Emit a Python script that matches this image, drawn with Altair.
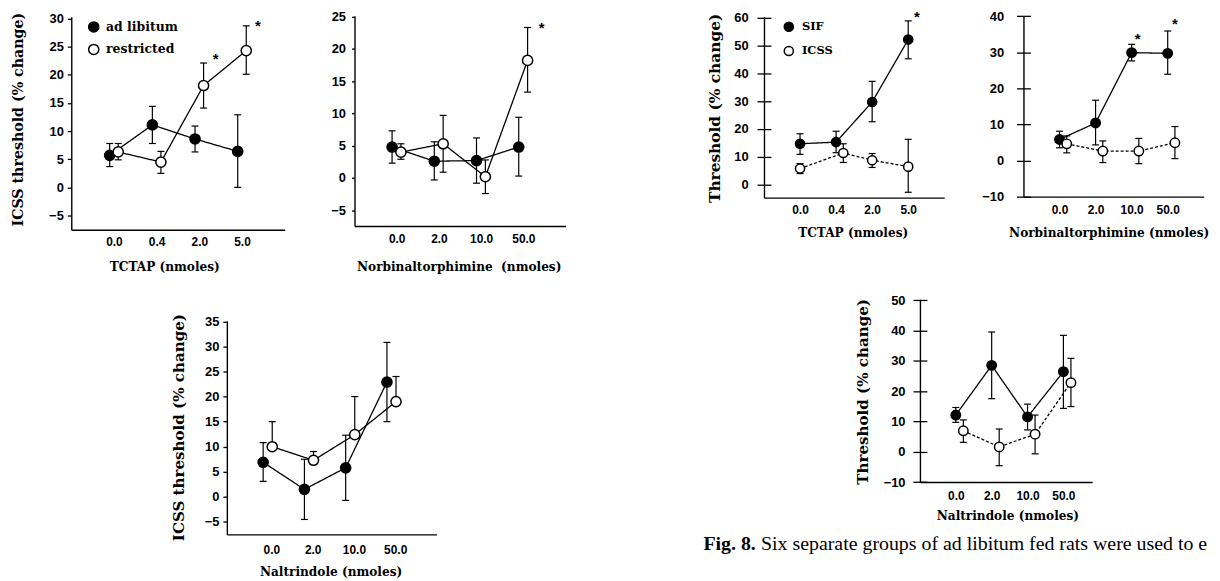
import altair as alt
import pandas as pd

W, H = 1212, 573

# ---------------- data ----------------
# Panel A: TCTAP, ICSS threshold, ad libitum vs restricted
A_DOSES = ["0.0", "0.4", "2.0", "5.0"]
A_SERIES = ["ad libitum", "restricted"]
A_ADLIB_MEAN = [5.7, 11.1, 8.6, 6.4]
A_ADLIB_LO = [3.7, 7.8, 6.3, 0.0]
A_ADLIB_HI = [7.8, 14.4, 10.9, 12.9]
A_RESTR_MEAN = [6.3, 4.5, 18.1, 24.3]
A_RESTR_LO = [4.9, 2.5, 14.1, 20.1]
A_RESTR_HI = [7.8, 6.4, 22.1, 28.7]
A_ADLIB_DODGE = [-0.1, -0.1, -0.1, -0.1]
A_RESTR_DODGE = [0.1, 0.1, 0.1, 0.1]
A_STAR_X = [2.38, 3.37]
A_STAR_Y = [23.5, 29.4]

# Panel B: Norbinaltorphimine, ICSS threshold, ad libitum vs restricted
B_DOSES = ["0.0", "2.0", "10.0", "50.0"]
B_ADLIB_MEAN = [4.8, 2.6, 2.7, 4.8]
B_ADLIB_LO = [2.3, -0.3, -0.8, 0.3]
B_ADLIB_HI = [7.3, 5.6, 6.2, 9.4]
B_RESTR_MEAN = [4.0, 5.3, 0.2, 18.2]
B_RESTR_LO = [2.9, 0.9, -2.4, 13.3]
B_RESTR_HI = [5.3, 9.7, 2.8, 23.3]
B_ADLIB_DODGE = [-0.11, -0.11, -0.11, -0.11]
B_RESTR_DODGE = [0.1, 0.1, 0.1, 0.1]
B_STAR_X = [3.43]
B_STAR_Y = [23.8]

# Panel C: Naltrindole, ICSS threshold, ad libitum vs restricted
C_DOSES = ["0.0", "2.0", "10.0", "50.0"]
C_ADLIB_MEAN = [6.9, 1.5, 5.8, 22.9]
C_ADLIB_LO = [3.1, -4.5, -0.7, 15.0]
C_ADLIB_HI = [10.8, 7.5, 12.3, 30.8]
C_RESTR_MEAN = [10.0, 7.3, 12.4, 19.0]
C_RESTR_LO = [10.0, 7.3, 12.4, 19.0]
C_RESTR_HI = [15.0, 9.05, 20.0, 24.0]
C_ADLIB_DODGE = [-0.2, -0.2, -0.2, -0.2]
C_RESTR_DODGE = [0.02, 0.02, 0.02, 0.02]

# Panel D: TCTAP, SIF vs ICSS
D_DOSES = ["0.0", "0.4", "2.0", "5.0"]
D_SERIES = ["SIF", "ICSS"]
D_SIF_MEAN = [14.7, 15.3, 29.7, 52.1]
D_SIF_LO = [10.9, 11.5, 22.6, 45.2]
D_SIF_HI = [18.3, 19.2, 37.1, 58.8]
D_ICSS_MEAN = [5.8, 11.4, 8.8, 6.5]
D_ICSS_LO = [4.0, 8.0, 6.2, -2.7]
D_ICSS_HI = [7.6, 14.7, 11.2, 16.3]
D_SIF_DODGE = [0, 0, 0, 0]
D_ICSS_DODGE = [0, 0.2, 0, 0]
D_STAR_X = [3.24]
D_STAR_Y = [61.7]

# Panel E: Norbinaltorphimine, SIF vs ICSS
E_DOSES = ["0.0", "2.0", "10.0", "50.0"]
E_SIF_MEAN = [5.8, 10.4, 29.9, 29.7]
E_SIF_LO = [3.5, 4.3, 27.6, 23.9]
E_SIF_HI = [8.1, 16.7, 32.2, 35.9]
E_ICSS_MEAN = [4.6, 2.6, 2.6, 4.9]
E_ICSS_LO = [2.1, -0.6, -0.9, 0.5]
E_ICSS_HI = [6.8, 5.4, 6.1, 9.4]
E_SIF_DODGE = [0, 0, 0, 0]
E_ICSS_DODGE = [0.2, 0.2, 0.2, 0.2]
E_STAR_X = [2.17, 3.2]
E_STAR_Y = [34.8, 38.9]

# Panel F: Naltrindole, SIF vs ICSS
F_DOSES = ["0.0", "2.0", "10.0", "50.0"]
F_SIF_MEAN = [12.1, 28.5, 11.5, 26.4]
F_SIF_LO = [9.7, 17.5, 7.2, 14.3]
F_SIF_HI = [14.6, 39.5, 15.7, 38.4]
F_ICSS_MEAN = [6.9, 1.6, 5.8, 22.8]
F_ICSS_LO = [3.1, -4.6, -0.7, 14.9]
F_ICSS_HI = [10.5, 7.5, 12.1, 30.8]
F_SIF_DODGE = [0, 0, 0, 0]
F_ICSS_DODGE = [0.21, 0.21, 0.21, 0.21]

Y_TICKS_A = [-5, 0, 5, 10, 15, 20, 25, 30]
Y_TICKS_B = [-5, 0, 5, 10, 15, 20, 25]
Y_TICKS_C = [-5, 0, 5, 10, 15, 20, 25, 30, 35]
Y_TICKS_D = [0, 10, 20, 30, 40, 50, 60]
Y_TICKS_E = [-10, 0, 10, 20, 30, 40]
Y_TICKS_F = [-10, 0, 10, 20, 30, 40, 50]

CAPTION_BOLD = "Fig. 8."
CAPTION_REST = "Six separate groups of ad libitum fed rats were used to e"

TITLE_FONT = "DejaVu Serif"
LABEL_FONT = "Liberation Sans"


def make_df(names, means, los, his, dodges):
    rows = []
    for name, m, lo, hi, dg in zip(names, means, los, his, dodges):
        for i in range(len(m)):
            rows.append({"series": name, "x": i + dg[i], "y": m[i], "lo": lo[i], "hi": hi[i]})
    return pd.DataFrame(rows)


def panel(df, doses, series, lay, stars=None, legend=None, dashed=False, crossing=False):
    xscale = alt.Scale(domain=lay["xdom"], range=lay["xrng"], nice=False, zero=False)
    yscale = alt.Scale(domain=lay["ydom"], range=lay["yrng"], nice=False, zero=False)
    label_expr = "[" + ",".join("'%s'" % d for d in doses) + "][datum.value]"
    xaxis = alt.Axis(
        orient="bottom", offset=lay["yrng"][0] - H, values=list(range(len(doses))),
        labelExpr=label_expr, ticks=False, tickSize=0, labelPadding=lay["xpad"],
        labelFont=LABEL_FONT, labelFontSize=12, labelFontWeight="bold", labelColor="black",
        labelFlush=False, labelOverlap=False,
        domainColor="black", domainWidth=1.4, grid=False,
        title=lay["xtitle"], titleFont=TITLE_FONT, titleFontSize=12.2, titleFontWeight="bold",
        titleColor="black", titleX=lay["xtitle_x"], titleY=lay["xtitle_y"],
        titleBaseline="middle", titleAlign="center",
    )
    yaxis_kw = dict(
        orient="left", offset=-lay["xrng"][0], values=lay["yticks"],
        tickSize=lay["ytick"], tickColor="black", tickWidth=1.3,
        labelPadding=lay["ypad"], labelFont=LABEL_FONT, labelFontSize=13,
        labelFontWeight="bold", labelColor="black", labelFlush=False, labelOverlap=False,
        domainColor="black", domainWidth=1.4, grid=False,
    )
    if lay.get("ytitle"):
        yaxis_kw.update(
            title=lay["ytitle"], titleFont=TITLE_FONT, titleFontSize=lay["ytitle_size"],
            titleFontWeight="bold", titleColor="black", titleAngle=270,
            titleX=lay["ytitle_x"], titleY=lay["ytitle_y"], titleBaseline="middle",
            titleAlign="center",
        )
    else:
        yaxis_kw.update(title="")
    yaxis = alt.Axis(**yaxis_kw)

    X = lambda f: alt.X(f, type="quantitative", scale=xscale, axis=xaxis)
    Y = lambda f: alt.Y(f, type="quantitative", scale=yscale, axis=yaxis)
    fill_scale = alt.Scale(domain=series, range=["black", "white"])

    base = alt.Chart(df)
    dash_range = [[1, 0], [3, 2]] if dashed else [[1, 0], [1, 0]]
    line = base.mark_line(color="black", strokeWidth=1.3).encode(
        x=X("x"), y=Y("y"), detail="series:N",
        strokeDash=alt.StrokeDash("series:N", scale=alt.Scale(domain=series, range=dash_range), legend=None),
    )
    err = base.mark_rule(color="black", strokeWidth=1.2).encode(x=X("x"), y=Y("lo"), y2="hi:Q")
    cap_hi = base.mark_tick(orient="horizontal", size=7, thickness=1.2, color="black", opacity=1).encode(x=X("x"), y=Y("hi"))
    cap_lo = base.mark_tick(orient="horizontal", size=7, thickness=1.2, color="black", opacity=1).encode(x=X("x"), y=Y("lo"))
    pts = base.mark_circle(size=lay["size"], opacity=1, stroke="black", strokeWidth=1.5).encode(
        x=X("x"), y=Y("y"), fill=alt.Fill("series:N", scale=fill_scale, legend=None),
    )
    layers = [line, err, cap_hi, cap_lo, pts]
    if stars:
        sdf = pd.DataFrame({"x": stars[0], "y": stars[1], "t": ["*"] * len(stars[0])})
        star = alt.Chart(sdf).mark_text(font=LABEL_FONT, fontSize=15, fontWeight="bold",
                                        color="black", baseline="middle", dy=4).encode(
            x=X("x"), y=Y("y"), text="t:N")
        layers.append(star)
    if legend:
        ldf = pd.DataFrame({"series": series, "sx": [legend["sx"]] * len(series),
                            "tx": [legend["tx"]] * len(series), "y": legend["ys"]})
        lpts = alt.Chart(ldf).mark_circle(size=lay["size"], opacity=1, stroke="black", strokeWidth=1.5).encode(
            x=X("sx"), y=Y("y"), fill=alt.Fill("series:N", scale=fill_scale, legend=None))
        ltxt = alt.Chart(ldf).mark_text(font=TITLE_FONT, fontSize=legend["fs"], fontWeight="bold",
                                        color="black", align="left", baseline="middle").encode(
            x=X("tx"), y=Y("y"), text="series:N")
        layers += [lpts, ltxt]
    out = [alt.layer(*layers)]
    if crossing:
        tick_axis = alt.Axis(orient="right", offset=lay["xrng"][0] - W, domain=False, labels=False,
                             values=lay["yticks"], tickSize=lay["ytick"], tickColor="black",
                             tickWidth=1.3, grid=False, title="")
        ghost = base.mark_point(opacity=0).encode(
            y=alt.Y("y:Q", scale=yscale, axis=tick_axis))
        out.append(ghost)
    return out


# ---------------- layout (plot-area pixel geometry) ----------------
LAY_A = dict(xdom=[-1, 4], xrng=[63.7, 278.5], ydom=[-7.52, 30.3], yrng=[221.3, 7],
             yticks=Y_TICKS_A, ytick=4, ypad=4, xpad=7, size=105,
             xtitle="TCTAP (nmoles)", xtitle_x=157.3, xtitle_y=37,
             ytitle="ICSS threshold (% change)", ytitle_size=14.3, ytitle_x=-52.7, ytitle_y=110)
LAY_B = dict(xdom=[-1, 4], xrng=[348.8, 561.3], ydom=[-7.42, 25.1], yrng=[217.5, 6],
             yticks=Y_TICKS_B, ytick=3, ypad=6, xpad=8, size=105,
             xtitle="Norbinaltorphimine\u00a0 (nmoles)", xtitle_x=453.7, xtitle_y=40.5)
LAY_C = dict(xdom=[-1.08, 4], xrng=[220.3, 431.3], ydom=[-7.48, 35.1], yrng=[528, 313],
             yticks=Y_TICKS_C, ytick=4, ypad=4, xpad=10, size=105,
             xtitle="Naltrindole (nmoles)", xtitle_x=324.7, xtitle_y=37.3,
             ytitle="ICSS threshold (% change)", ytitle_size=15.2, ytitle_x=-48.8, ytitle_y=420)
LAY_D = dict(xdom=[-1, 4], xrng=[761, 942.5], ydom=[-4.63, 60.25], yrng=[189, 7],
             yticks=Y_TICKS_D, ytick=7, ypad=9, xpad=7, size=85,
             xtitle="TCTAP (nmoles)", xtitle_x=850.3, xtitle_y=34.7,
             ytitle="Threshold (% change)", ytitle_size=15.5, ytitle_x=-50.2, ytitle_y=98.7)
LAY_E = dict(xdom=[-1, 4], xrng=[1022.2, 1203.7], ydom=[-10.05, 40.1], yrng=[188, 6],
             yticks=Y_TICKS_E, ytick=7, ypad=13, xpad=7.5, size=90,
             xtitle="Norbinaltorphimine (nmoles)", xtitle_x=1108, xtitle_y=36)
LAY_F = dict(xdom=[-1, 3.8], xrng=[918, 1091.3], ydom=[-10, 50.3], yrng=[475.3, 291.3],
             yticks=Y_TICKS_F, ytick=7, ypad=8, xpad=8.5, size=90,
             xtitle="Naltrindole (nmoles)", xtitle_x=1006, xtitle_y=34,
             ytitle="Threshold (% change)", ytitle_size=15.2, ytitle_x=-57.7, ytitle_y=384)

LEG_A = dict(sx=-0.474, tx=-0.185, ys=[28.5, 24.5], fs=12.5)
LEG_D = dict(sx=-0.311, tx=0.055, ys=[56.7, 48.0], fs=11.5)

df_a = make_df(A_SERIES, [A_ADLIB_MEAN, A_RESTR_MEAN], [A_ADLIB_LO, A_RESTR_LO],
               [A_ADLIB_HI, A_RESTR_HI], [A_ADLIB_DODGE, A_RESTR_DODGE])
df_b = make_df(A_SERIES, [B_ADLIB_MEAN, B_RESTR_MEAN], [B_ADLIB_LO, B_RESTR_LO],
               [B_ADLIB_HI, B_RESTR_HI], [B_ADLIB_DODGE, B_RESTR_DODGE])
df_c = make_df(A_SERIES, [C_ADLIB_MEAN, C_RESTR_MEAN], [C_ADLIB_LO, C_RESTR_LO],
               [C_ADLIB_HI, C_RESTR_HI], [C_ADLIB_DODGE, C_RESTR_DODGE])
df_d = make_df(D_SERIES, [D_SIF_MEAN, D_ICSS_MEAN], [D_SIF_LO, D_ICSS_LO],
               [D_SIF_HI, D_ICSS_HI], [D_SIF_DODGE, D_ICSS_DODGE])
df_e = make_df(D_SERIES, [E_SIF_MEAN, E_ICSS_MEAN], [E_SIF_LO, E_ICSS_LO],
               [E_SIF_HI, E_ICSS_HI], [E_SIF_DODGE, E_ICSS_DODGE])
df_f = make_df(D_SERIES, [F_SIF_MEAN, F_ICSS_MEAN], [F_SIF_LO, F_ICSS_LO],
               [F_SIF_HI, F_ICSS_HI], [F_SIF_DODGE, F_ICSS_DODGE])

layers = []
layers += panel(df_a, A_DOSES, A_SERIES, LAY_A, stars=(A_STAR_X, A_STAR_Y), legend=LEG_A)
layers += panel(df_b, B_DOSES, A_SERIES, LAY_B, stars=(B_STAR_X, B_STAR_Y))
layers += panel(df_c, C_DOSES, A_SERIES, LAY_C)
layers += panel(df_d, D_DOSES, D_SERIES, LAY_D, stars=(D_STAR_X, D_STAR_Y), legend=LEG_D,
                dashed=True, crossing=True)
layers += panel(df_e, E_DOSES, D_SERIES, LAY_E, stars=(E_STAR_X, E_STAR_Y), dashed=True, crossing=True)
layers += panel(df_f, F_DOSES, D_SERIES, LAY_F, dashed=True, crossing=True)

cap_df = pd.DataFrame({"b": [CAPTION_BOLD], "r": [CAPTION_REST]})
cap_bold = alt.Chart(cap_df).mark_text(font="Liberation Serif", fontSize=20, fontWeight="bold",
                                       align="left", baseline="alphabetic", color="black").encode(
    text="b:N", x=alt.value(700), y=alt.value(543.7))
cap_rest = alt.Chart(cap_df).mark_text(font="Liberation Serif", fontSize=20,
                                       align="left", baseline="alphabetic", color="black").encode(
    text="r:N", x=alt.value(758), y=alt.value(543.7))
layers += [cap_bold, cap_rest]

chart = alt.layer(*layers).resolve_scale(
    x="independent", y="independent", fill="independent", strokeDash="independent"
).resolve_axis(x="independent", y="independent").resolve_legend(
    fill="independent", strokeDash="independent"
).properties(
    width=W, height=H, autosize=alt.AutoSizeParams(type="none"), padding=0
).configure_view(strokeWidth=0).configure_axis(grid=False)

chart.save("out.html", embed_options={"renderer": "svg", "actions": False})
